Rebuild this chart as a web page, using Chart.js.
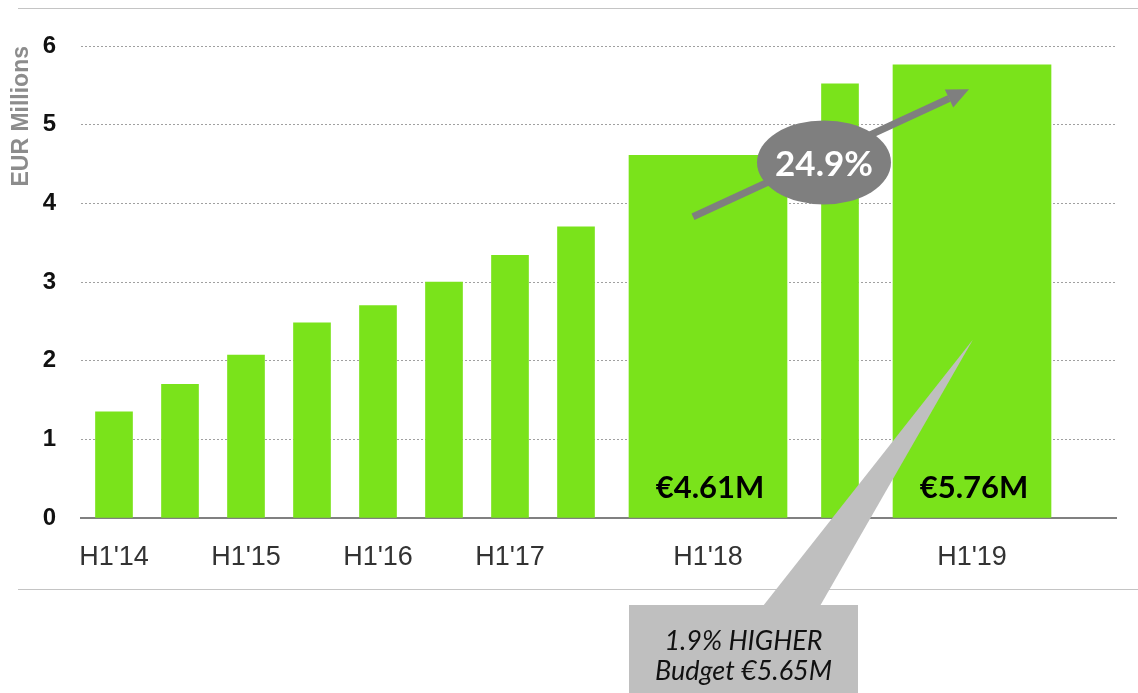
<!DOCTYPE html>
<html>
<head>
<meta charset="utf-8">
<script src="https://cdn.jsdelivr.net/npm/chart.js@4.4.1/dist/chart.umd.min.js"></script>
<style>
  html, body { margin: 0; padding: 0; background: #fff; }
  #wrap { position: relative; width: 1138px; height: 693px; }
  #frame { position: absolute; left: 18px; top: 8px; width: 1120px; height: 580px;
           border-top: 1.5px solid #c4c4c4; border-bottom: 1.5px solid #c4c4c4; }
  canvas { position: absolute; left: 0; top: 0; }
</style>
</head>
<body>
<div id="wrap">
  <div id="frame"></div>
  <canvas id="revChart" width="1138" height="693"></canvas>
</div>
<script>
// ----------------------------------------------------
// DATA (half-year revenue, EUR millions)
// ----------------------------------------------------
const categories = ["H1'14", "H2'14", "H1'15", "H2'15", "H1'16", "H2'16", "H1'17", "H2'17",
                    "", "H1'18", "", "H2'18", "", "H1'19", "", ""];
const revenue = [1.35, 1.70, 2.07, 2.48, 2.70, 3.00, 3.34, 3.70,
                 null, 4.61, null, 5.52, null, 5.76, null, null];
const highlighted = ["H1'18", "H1'19"];
const highlightLabels = ["€4.61M", "€5.76M"];
const growthLabel = "24.9%";
const calloutLines = ["1.9% HIGHER", "Budget €5.65M"];
const yTicks = [0, 1, 2, 3, 4, 5, 6];

const GREEN = '#7ae31b';
const GREY = '#7f7f7f';

const isWide = categories.map(c => highlighted.includes(c));
const regularData = revenue.map((v, i) => isWide[i] ? null : v);
const wideData = revenue.map((v, i) => isWide[i] ? v : null);

// annotations drawn on top of the bars
const annotations = {
  id: 'annotations',
  beforeDatasetsDraw(chart) {
    // grid stops a little before the last slot, like the original slide
    const { ctx, chartArea } = chart;
    ctx.clearRect(chartArea.right - 20, chartArea.top - 10, 22, chartArea.bottom - chartArea.top + 14);
  },
  afterDatasetsDraw(chart) {
    const { ctx } = chart;
    const y = chart.scales.y;
    const wide = chart.getDatasetMeta(1).data.filter((el, i) => wideData[i] !== null);
    const base = y.getPixelForValue(0);

    // value labels inside the highlighted bars
    ctx.save();
    ctx.fillStyle = '#000';
    ctx.font = 'bold 31px Lato, sans-serif';
    ctx.textAlign = 'center';
    ctx.textBaseline = 'middle';
    wide.forEach((el, i) => ctx.fillText(highlightLabels[i], el.x + 2, base - 30));
    ctx.restore();

    const x18 = wide[0].x, x19 = wide[1].x;

    // growth arrow
    const sx = x18 - 15, sy = y.getPixelForValue(3.83);
    const ex = x19 - 3, ey = y.getPixelForValue(5.45);
    const ang = Math.atan2(ey - sy, ex - sx);
    const headLen = 22, headW = 10;
    const bx = ex - headLen * Math.cos(ang), by = ey - headLen * Math.sin(ang);
    ctx.save();
    ctx.strokeStyle = GREY;
    ctx.fillStyle = GREY;
    ctx.lineWidth = 7;
    ctx.beginPath();
    ctx.moveTo(sx, sy);
    ctx.lineTo(bx, by);
    ctx.stroke();
    ctx.beginPath();
    ctx.moveTo(ex, ey);
    ctx.lineTo(bx + headW * Math.sin(ang), by - headW * Math.cos(ang));
    ctx.lineTo(bx - headW * Math.sin(ang), by + headW * Math.cos(ang));
    ctx.closePath();
    ctx.fill();

    // growth bubble
    const cx = (x18 + x19) / 2 - 16, cy = y.getPixelForValue(4.52);
    ctx.beginPath();
    ctx.ellipse(cx, cy, 67, 42, 0, 0, Math.PI * 2);
    ctx.fill();
    ctx.fillStyle = '#fff';
    ctx.font = 'bold 35px Lato, sans-serif';
    ctx.textAlign = 'center';
    ctx.textBaseline = 'middle';
    ctx.fillText(growthLabel, cx, cy + 2);
    ctx.restore();

    // budget callout
    const boxL = x18 - 79, boxW = 229, boxT = base + 87;
    const tipX = x19 + 1, tipY = y.getPixelForValue(2.27);
    ctx.save();
    ctx.fillStyle = '#bfbfbf';
    ctx.beginPath();
    ctx.moveTo(boxL + 134, boxT + 1);
    ctx.lineTo(tipX, tipY);
    ctx.lineTo(boxL + 191, boxT + 1);
    ctx.closePath();
    ctx.fill();
    ctx.fillRect(boxL, boxT, boxW, chart.height - boxT);
    ctx.fillStyle = '#111';
    ctx.textAlign = 'center';
    ctx.textBaseline = 'middle';
    ctx.font = 'italic 27px Lato, sans-serif';
    ctx.fillText(calloutLines[0], boxL + boxW / 2, boxT + 36);
    ctx.fillText(calloutLines[1], boxL + boxW / 2, boxT + 66);
    ctx.restore();
  }
};

new Chart(document.getElementById('revChart'), {
  type: 'bar',
  data: {
    labels: categories,
    datasets: [
      { label: 'Revenue', data: regularData, backgroundColor: GREEN, barThickness: 37, grouped: false },
      { label: 'Highlighted', data: wideData, backgroundColor: GREEN, barThickness: 158, grouped: false }
    ]
  },
  options: {
    responsive: false,
    animation: false,
    layout: { padding: { left: 0, top: 46, right: 1, bottom: 0 } },
    plugins: { legend: { display: false }, tooltip: { enabled: false } },
    scales: {
      x: {
        afterFit: s => { s.height = 175; },
        grid: { display: false },
        border: { display: true, color: '#808080', width: 2 },
        ticks: {
          autoSkip: false, maxRotation: 0, padding: 15, color: '#333',
          font: { family: "'Liberation Sans', Arial, sans-serif", size: 27 },
          callback: (v, i) => categories[i].startsWith('H1') ? categories[i] : ''
        }
      },
      y: {
        min: 0, max: 6,
        afterFit: s => { s.width = 81; },
        afterBuildTicks: s => { s.ticks = yTicks.map(v => ({ value: v })); },
        border: { display: false, dash: [2, 2] },
        grid: {
          drawTicks: false, lineWidth: 1,
          color: c => c.tick && c.tick.value === 0 ? 'rgba(0,0,0,0)' : '#a0a0a0'
        },
        ticks: {
          padding: 25, color: '#111',
          font: { family: "'Liberation Sans', Arial, sans-serif", size: 24, weight: 'bold' }
        },
        title: {
          display: true, text: 'EUR Millions', align: 'end', color: '#8c8c8c',
          padding: { top: 8, bottom: 0 },
          font: { family: "'Liberation Sans', Arial, sans-serif", size: 23, weight: 'bold' }
        }
      }
    }
  },
  plugins: [annotations]
});
</script>
</body>
</html>
